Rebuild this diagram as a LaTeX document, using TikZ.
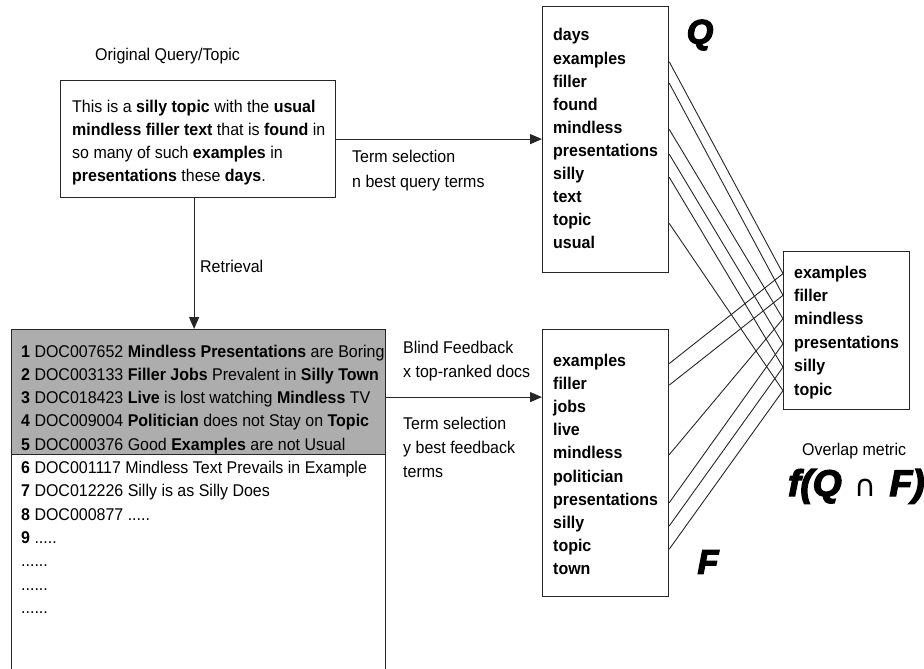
\documentclass[tikz,border=0pt]{standalone}
\usepackage{fontspec}
\setmainfont{Liberation Sans}[FakeStretch=0.94]
\newfontfamily\heavyfont[BoldItalicFeatures={FakeBold=4}]{Liberation Sans}
\newfontfamily\symfont{DejaVu Sans}
\usetikzlibrary{arrows.meta}
% runs of dots written as macros so that \foreach does not read them as ranges
\newcommand\fivedots{.....}
\newcommand\sixdots{......}
\begin{document}
\begin{tikzpicture}[x=1pt,y=-1pt,
  box/.style={draw=black!85, line width=1.2pt, inner sep=0pt, anchor=north west},
  txt/.style={inner sep=0pt, anchor=base west, font=\fontsize{17}{20}\selectfont},
  term/.style={inner sep=0pt, anchor=base west, font=\fontsize{17}{20}\selectfont\bfseries},
  flow/.style={draw=black!85, line width=1.2pt, -{Triangle[length=12pt,width=10pt]}},
  link/.style={draw=black!85, line width=0.9pt},
  setlabel/.style={inner sep=0pt, font=\heavyfont\bfseries\itshape\fontsize{34}{34}\selectfont}]
\useasboundingbox (0,0) rectangle (924,669);

% boxes
\node[box, minimum width=275pt, minimum height=117pt] (query) at (60,80) {};
\node[box, minimum width=126pt, minimum height=266pt] (qbox) at (542,6) {};
\node[box, minimum width=126pt, minimum height=267pt] (fbox) at (542,329) {};
\node[box, minimum width=126pt, minimum height=158pt] (rbox) at (783,251) {};
\node[box, fill=gray!64, minimum width=374pt, minimum height=125pt] (topdocs) at (11,329) {};
\node[box, minimum width=374pt, minimum height=222pt] (moredocs) at (11,454) {};

% original query
\node[txt] (origlabel) at (95,60) {Original Query/Topic};
\node[txt] (ql1) at (72,112) {This is a \textbf{silly topic} with the \textbf{usual}};
\node[txt] (ql2) at (72,135) {\textbf{mindless filler text} that is \textbf{found} in};
\node[txt] (ql3) at (72,158) {so many of such \textbf{examples} in};
\node[txt] (ql4) at (72,181) {\textbf{presentations} these \textbf{days}.};

% ranked documents
\foreach \d [count=\i] in {
  {\textbf{1} DOC007652 \textbf{Mindless Presentations} are Boring},
  {\textbf{2} DOC003133 \textbf{Filler Jobs} Prevalent in \textbf{Silly Town}},
  {\textbf{3} DOC018423 \textbf{Live} is lost watching \textbf{Mindless} TV},
  {\textbf{4} DOC009004 \textbf{Politician} does not Stay on \textbf{Topic}},
  {\textbf{5} DOC000376 Good \textbf{Examples} are not Usual},
  {\textbf{6} DOC001117 Mindless Text Prevails in Example},
  {\textbf{7} DOC012226 Silly is as Silly Does},
  {\textbf{8} DOC000877 \fivedots},
  {\textbf{9} \fivedots},
  {\sixdots},{\sixdots},{\sixdots}}
  \node[txt] (doc\i) at (21,{357+23.3*(\i-1)}) {\d};

% query terms
\foreach \w [count=\i] in {days,examples,filler,found,mindless,presentations,silly,text,topic,usual}
  \node[term] (q-\w) at (553,{41+23.1*(\i-1)}) {\w};
% feedback terms
\foreach \w [count=\i] in {examples,filler,jobs,live,mindless,politician,presentations,silly,topic,town}
  \node[term] (f-\w) at (553,{366+23.2*(\i-1)}) {\w};
% common terms
\foreach \w [count=\i] in {examples,filler,mindless,presentations,silly,topic}
  \node[term] (r-\w) at (794,{278+23.4*(\i-1)}) {\w};

% set labels
\node[setlabel] (qname) at (700,35) {Q};
\node[setlabel] (fname) at (708,562) {F};
\node[txt] (overlap) at (802,455) {Overlap metric};
\node[setlabel, anchor=base west, font=\heavyfont\bfseries\itshape\fontsize{37}{37}\selectfont] (metric) at (788,496)
  {f(Q\hspace{13pt}{\symfont\mdseries\upshape\fontsize{30}{30}\selectfont ∩}\hspace{13pt}F)};

% flow arrows
\draw[flow] (query.east) -- (query.east -| qbox.west);
\node[txt] (tsel1) at (352,162) {Term selection};
\node[txt] (tsel2) at (352,187) {n best query terms};
\draw[flow] ([xshift=-4pt]query.south) -- ([xshift=-4pt]query.south |- topdocs.north);
\node[txt] (retr) at (200,272) {Retrieval};
\draw[flow] ([yshift=-5pt]topdocs.east) -- ([yshift=-5pt]topdocs.east -| fbox.west);
\node[txt] (blind1) at (403,353) {Blind Feedback};
\node[txt] (blind2) at (403,377) {x top-ranked docs};
\node[txt] (fsel1) at (403,429) {Term selection};
\node[txt] (fsel2) at (403,453) {y best feedback};
\node[txt] (fsel3) at (403,477) {terms};

% overlap links
\foreach \w in {examples,filler,mindless,presentations,silly,topic} {
  \draw[link] ([yshift=-2pt]q-\w -| qbox.east) -- (r-\w -| rbox.west);
  \draw[link] ([yshift=-2pt]f-\w -| fbox.east) -- (r-\w -| rbox.west);
}
\end{tikzpicture}
\end{document}
